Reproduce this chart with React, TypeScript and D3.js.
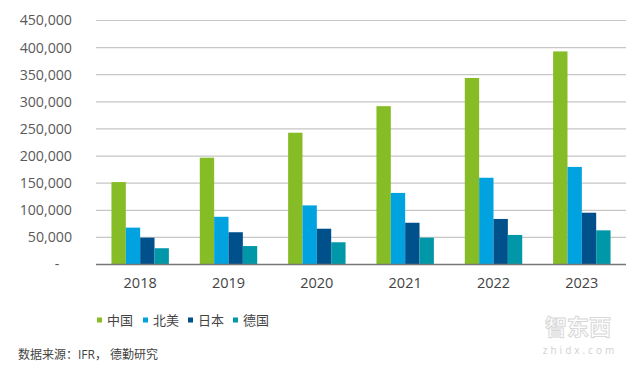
import * as d3 from "d3";
import React from "react";

const years = ["2018", "2019", "2020", "2021", "2022", "2023"];
const seriesNames = ["中国", "北美", "日本", "德国"];
const china = [152000, 197000, 243000, 292000, 344000, 393000];
const northAmerica = [68000, 88000, 109000, 132000, 160000, 180000];
const japan = [49500, 59500, 66000, 77000, 84000, 95500];
const germany = [30000, 34000, 41000, 49500, 54500, 63000];
const yTicks = [0, 50000, 100000, 150000, 200000, 250000, 300000, 350000, 400000, 450000];
const colors = ["#86bc25", "#00a3e0", "#00508c", "#0097a9"];

const W = 640, H = 368;
const margin = { left: 96, right: 14, top: 20.5, bottom: 103.5 };
const font = "'Open Sans', 'Noto Sans CJK SC', sans-serif";

export default function App() {
  const series = [china, northAmerica, japan, germany];
  const width = W - margin.left - margin.right;
  const height = H - margin.top - margin.bottom;

  const x = d3.scaleBand().domain(years).range([0, width]).paddingInner(0.35).paddingOuter(0.175);
  const xInner = d3.scaleBand().domain(seriesNames).range([0, x.bandwidth()]);
  const y = d3.scaleLinear().domain([0, 450000]).range([height, 0]);
  const fmt = d3.format(",");

  // legend positions
  const legendX = [97, 143, 188, 233];

  return (
    <svg width={W} height={H} style={{ position: "absolute", left: 0, top: 0, background: "#fff" }}>
      <g transform={`translate(${margin.left},${margin.top})`}>
        {/* gridlines */}
        {yTicks.filter(t => t > 0).map(t => (
          <line key={t} x1={0} x2={width} y1={y(t)} y2={y(t)} stroke="#c6c6c6" strokeWidth={1.2} />
        ))}
        {/* y labels */}
        {yTicks.map(t => (
          <text key={t} x={t === 0 ? -39 : -24} y={y(t)} dy="0.35em" textAnchor={t === 0 ? "middle" : "end"}
            fontFamily={font} fontSize={14.2} fill="#595959">
            {t === 0 ? "-" : fmt(t)}
          </text>
        ))}
        {/* bars */}
        {years.map((yr, i) => (
          <g key={yr} transform={`translate(${x(yr)},0)`}>
            {series.map((s, j) => (
              <rect key={j} x={xInner(seriesNames[j])} y={y(s[i])} width={xInner.bandwidth()}
                height={height - y(s[i])} fill={colors[j]} />
            ))}
            <text x={x.bandwidth() / 2} y={height + 18.5} dy="0.35em" textAnchor="middle"
              fontFamily={font} fontSize={14.5} fill="#444">{yr}</text>
          </g>
        ))}
        <line x1={0} x2={width} y1={height} y2={height} stroke="#777" strokeWidth={1.5} />
      </g>
      {/* legend */}
      {seriesNames.map((name, j) => (
        <g key={name} transform={`translate(${legendX[j]},320)`}>
          <rect x={0} y={-2.5} width={5} height={5} fill={colors[j]} />
          <text x={10} y={0} dy="0.35em" fontFamily={font} fontSize={13} fill="#444">{name}</text>
        </g>
      ))}
      <text x={18} y={355} dy="0.35em" fontFamily={font} fontSize={12} fill="#444">数据来源：IFR， 德勤研究</text>
      {/* watermark */}
      <text x={578} y={335} textAnchor="middle" fontFamily={font} fontSize={22} fontWeight="bold"
        fill="none" stroke="#d8d8d8" strokeWidth={1}>智东西</text>
      <text x={580} y={354} textAnchor="middle" fontFamily={font} fontSize={10} fill="#d0d0d0" letterSpacing={3}>zhidx.com</text>
    </svg>
  );
}
